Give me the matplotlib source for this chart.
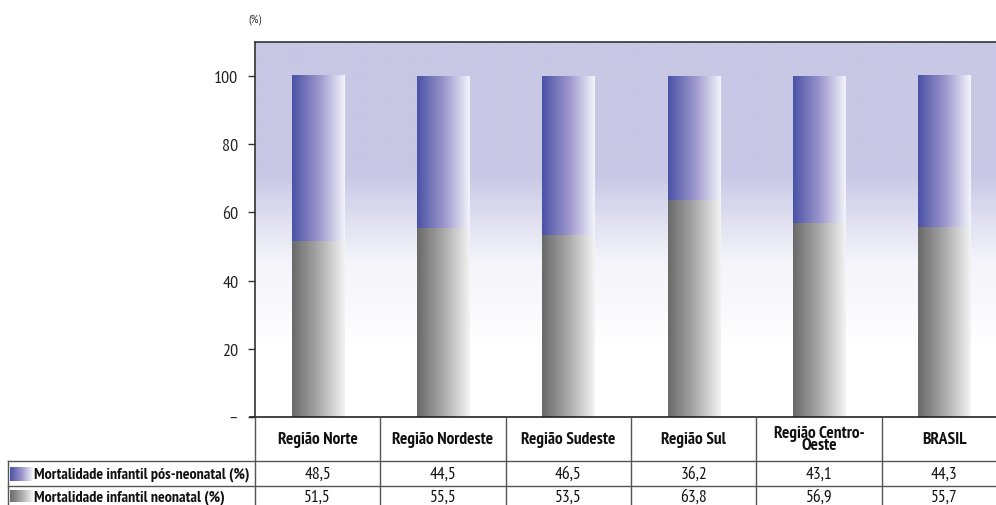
import numpy as np
import matplotlib.pyplot as plt
from matplotlib.colors import LinearSegmentedColormap
from matplotlib.transforms import blended_transform_factory

# dados
regioes = ["Região Norte", "Região Nordeste", "Região Sudeste", "Região Sul",
           "Região Centro-\nOeste", "BRASIL"]
pos_neonatal = [48.5, 44.5, 46.5, 36.2, 43.1, 44.3]
neonatal = [51.5, 55.5, 53.5, 63.8, 56.9, 55.7]
serie_pos = "Mortalidade infantil pós-neonatal (%)"
serie_neo = "Mortalidade infantil neonatal (%)"
yticks = [0, 20, 40, 60, 80, 100]
yticklabels = ["–", "20", "40", "60", "80", "100"]

FONT = ["PT Sans Narrow", "Roboto Condensed", "DejaVu Sans"]
plt.rcParams["font.family"] = FONT

W, H = 996, 506
fig = plt.figure(figsize=(W / 100, H / 100), dpi=100)
ax = fig.add_axes([255 / W, 1 - 418 / H, (1007 - 255) / W, (418 - 43) / H])

n = len(regioes)
ax.set_xlim(-0.5, n - 0.5)
ax.set_ylim(0, 110)

# fundo em degradê
cmap_bg = LinearSegmentedColormap.from_list("bg", ["#ffffff", "#f4f4fa", "#c8c8e6", "#c8c8e6"])
yy = np.linspace(0, 110, 600)
vals = np.interp(yy, [0, 21.5, 22, 95, 110], [0, 0, 0.02, 0.98, 1.0])
ax.imshow(vals[:, None], extent=(-0.5, n - 0.5, 0, 110), origin="lower",
          aspect="auto", cmap=cmap_bg, vmin=0, vmax=1, zorder=0)

cmap_blue = LinearSegmentedColormap.from_list("azul", ["#4a52a6", "#9a94cb", "#f4f4fc"])
cmap_gray = LinearSegmentedColormap.from_list("cinza", ["#696969", "#a9a9a9", "#f4f4f4"])
grad = np.linspace(0, 1, 256)[None, :]

x = np.arange(n)
largura = 0.415
b_neo = ax.bar(x, neonatal, largura, color="none", zorder=2)
b_pos = ax.bar(x, pos_neonatal, largura, bottom=neonatal, color="none", zorder=2)

for barras, cm in ((b_neo, cmap_gray), (b_pos, cmap_blue)):
    for r in barras:
        x0, y0 = r.get_x(), r.get_y()
        ax.imshow(grad, extent=(x0, x0 + r.get_width(), y0, y0 + r.get_height()),
                  aspect="auto", cmap=cm, zorder=2)

ax.set_xlim(-0.5, n - 0.5)
ax.set_ylim(0, 110)
ax.set_xticks([])
ax.set_yticks(yticks)
ax.set_yticklabels(yticklabels, fontsize=13, color="#222")
ax.tick_params(axis="y", length=5, width=1, color="#333", pad=7)
for s in ["right", "bottom"]:
    ax.spines[s].set_visible(False)
for s in ["left", "top"]:
    ax.spines[s].set_color("#333")
    ax.spines[s].set_linewidth(1.2)

ax.text(-7 / 752, (418 - 20) / 375, "(%)", transform=ax.transAxes, fontsize=8.5, color="#333",
        ha="left", va="center")

# tabela abaixo do gráfico
tr = blended_transform_factory(ax.transData, ax.transAxes)
px = 1 / 375
y_cab = -44 * px
y_l1 = -69 * px
y_fim = -90 * px
x_esq = -0.5 + (8 - 255) / 125.3
lc = "#555"

ax.plot([-0.5 - 5 / 125.3, n - 0.5], [0, 0], transform=tr, color="#222",
        lw=1.2, clip_on=False)
ax.plot([x_esq, n - 0.5], [y_cab, y_cab], transform=tr, color=lc, lw=1, clip_on=False)
ax.plot([x_esq, n - 0.5], [y_l1, y_l1], transform=tr, color=lc, lw=1, clip_on=False)
ax.plot([x_esq, x_esq], [y_cab, y_fim], transform=tr, color=lc, lw=1, clip_on=False)
for i in range(n + 1):
    ax.plot([i - 0.5, i - 0.5], [0, y_fim], transform=tr, color=lc, lw=1, clip_on=False)

for i, nome in enumerate(regioes):
    ax.text(i, y_cab / 2, nome, transform=tr, ha="center", va="center", fontsize=12.5,
            fontweight="bold", linespacing=0.7, color="#111")
    ax.text(i, (y_cab + y_l1) / 2, f"{pos_neonatal[i]:.1f}".replace(".", ","), transform=tr,
            ha="center", va="center", fontsize=12.5, color="#111")
    ax.text(i, (y_l1 + y_fim) / 2, f"{neonatal[i]:.1f}".replace(".", ","), transform=tr,
            ha="center", va="center", fontsize=12.5, color="#111")

# legenda dentro da tabela
sw0 = x_esq + 2 / 125.3
sw1 = x_esq + 24 / 125.3
for (ya, yb), cm, rot in (((y_cab, y_l1), cmap_blue, serie_pos), ((y_l1, y_fim), cmap_gray, serie_neo)):
    h = (ya - yb)
    ax.imshow(grad, extent=(sw0, sw1, yb + 0.22 * h, ya - 0.22 * h), aspect="auto", cmap=cm,
              transform=tr, clip_on=False, zorder=3)
    ax.text(sw1 + 2 / 125.3, (ya + yb) / 2, rot, transform=tr, ha="left", va="center",
            fontsize=11.5, fontweight="bold", color="#111")

ax.set_xlim(-0.5, n - 0.5)
ax.set_ylim(0, 110)

fig.savefig("out.png", dpi=100)
